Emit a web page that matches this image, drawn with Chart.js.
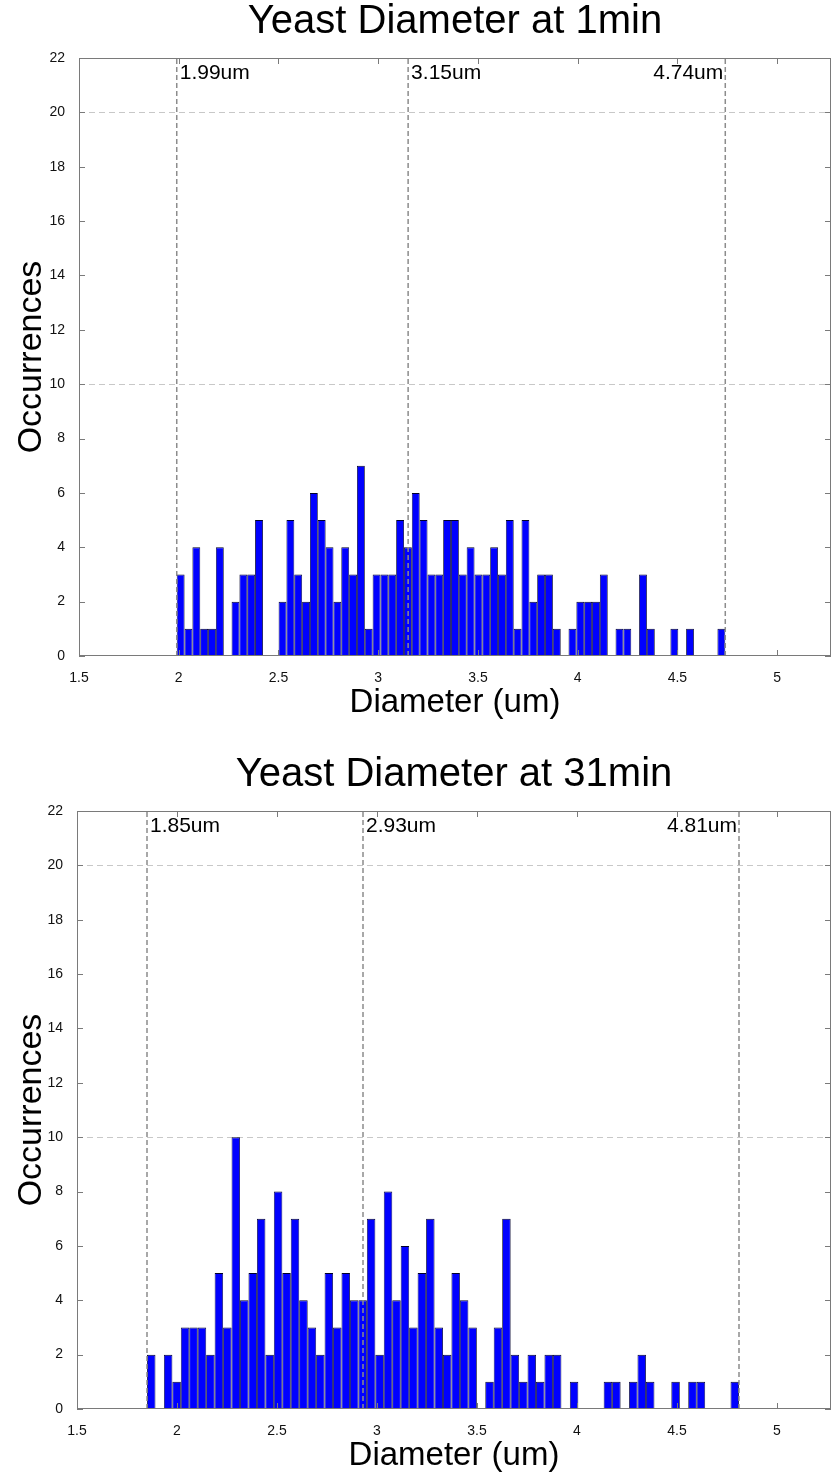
<!DOCTYPE html>
<html>
<head>
<meta charset="utf-8">
<script src="https://cdn.jsdelivr.net/npm/chart.js@4/dist/chart.umd.min.js"></script>
<style>
  html, body { margin: 0; padding: 0; background: #fff; overflow: hidden; width: 833px; height: 1472px; }
  .wrap { position: absolute; left: 0; width: 833px; height: 753px; }
</style>
</head>
<body>
<div class="wrap" style="top:0"><canvas id="c1" width="833" height="753"></canvas></div>
<div class="wrap" style="top:753px"><canvas id="c2" width="833" height="753"></canvas></div>
<script>
// ---------------- data ----------------
const xTickValues = [1.5, 2, 2.5, 3, 3.5, 4, 4.5, 5];
const yTickValues = [0, 2, 4, 6, 8, 10, 12, 14, 16, 18, 20, 22];
const yGridValues = [10, 20];

const title1 = 'Yeast Diameter at 1min';
const binRange1 = [1.99, 4.74];
const counts1 = [
  3, 1, 4, 1, 1, 4, 0, 2, 3, 3, 5, 0, 0, 2, 5, 3, 2, 6, 5, 4, 2, 4, 3, 7,
  1, 3, 3, 3, 5, 4, 6, 5, 3, 3, 5, 5, 3, 4, 3, 3, 4, 3, 5, 1, 5, 2, 3,
  3, 1, 0, 1, 2, 2, 2, 3, 0, 1, 1, 0, 3, 1, 0, 0, 1, 0, 1, 0, 0, 0, 1
];
const markers1 = [1.99, 3.15, 4.74];
const markerLabels1 = ['1.99um', '3.15um', '4.74um'];

const title2 = 'Yeast Diameter at 31min';
const binRange2 = [1.85, 4.81];
const counts2 = [
  2, 0, 2, 1, 3, 3, 3, 2, 5, 3, 10, 4, 5, 7, 2, 8, 5, 7, 4, 3, 2, 5, 3, 5, 4, 4, 7,
  2, 8, 4, 6, 3, 5, 7, 3, 2, 5, 4, 3, 0, 1, 3, 7, 2, 1, 2, 1, 2, 2, 0, 1,
  0, 0, 0, 1, 1, 0, 1, 2, 1, 0, 0, 1, 0, 1, 1, 0, 0, 0, 1
];
const markers2 = [1.85, 2.93, 4.81];
const markerLabels2 = ['1.85um', '2.93um', '4.81um'];

const xLabel = 'Diameter (um)';
const yLabel = 'Occurrences';

// ---------------- rendering ----------------
const FONT = "'Liberation Sans', Arial, Helvetica, sans-serif";

function binPoints(range, counts) {
  const w = (range[1] - range[0]) / counts.length;
  return counts.map((c, i) => ({ x: range[0] + (i + 0.5) * w, y: c }));
}

const decor = {
  id: 'decor',
  beforeDatasetsDraw(chart, args, o) {
    const { ctx, chartArea: a, scales: { y } } = chart;
    ctx.save();
    ctx.strokeStyle = '#c8c8c8';
    ctx.lineWidth = 1;
    ctx.setLineDash([6, 4]);
    o.grid.forEach(v => {
      const py = Math.round(y.getPixelForValue(v)) + 0.5;
      ctx.beginPath(); ctx.moveTo(a.left, py); ctx.lineTo(a.right, py); ctx.stroke();
    });
    ctx.restore();
  },
  afterDatasetsDraw(chart, args, o) {
    const { ctx, chartArea: a, scales: { x, y } } = chart;
    ctx.save();
    // marker lines
    ctx.strokeStyle = '#8c8c8c';
    ctx.lineWidth = 1.5;
    ctx.setLineDash([5, 3]);
    o.markers.forEach(v => {
      const px = x.getPixelForValue(v);
      ctx.beginPath(); ctx.moveTo(px, a.bottom); ctx.lineTo(px, a.top); ctx.stroke();
    });
    ctx.setLineDash([]);
    // marker labels
    ctx.fillStyle = '#000';
    ctx.font = '21px ' + FONT;
    ctx.textBaseline = 'middle';
    o.markers.forEach((v, i) => {
      const px = x.getPixelForValue(v);
      const al = o.align[i];
      ctx.textAlign = al;
      ctx.fillText(o.labels[i], al === 'left' ? px + 3 : px - 2, a.top + 15);
    });
    // frame
    ctx.strokeStyle = '#7a7a7a';
    ctx.lineWidth = 1;
    ctx.strokeRect(a.left + 0.5, a.top + 0.5, a.right - a.left - 1, a.bottom - a.top - 1);
    // inward ticks
    const tl = 6;
    o.xticks.forEach(v => {
      const px = Math.round(x.getPixelForValue(v)) + 0.5;
      ctx.beginPath();
      ctx.moveTo(px, a.bottom); ctx.lineTo(px, a.bottom - tl);
      ctx.moveTo(px, a.top); ctx.lineTo(px, a.top + tl);
      ctx.stroke();
    });
    o.yticks.forEach(v => {
      const py = Math.round(y.getPixelForValue(v)) + 0.5;
      ctx.beginPath();
      ctx.moveTo(a.left, py); ctx.lineTo(a.left + tl, py);
      ctx.moveTo(a.right, py); ctx.lineTo(a.right - tl, py);
      ctx.stroke();
    });
    ctx.restore();
  }
};

function makeChart(id, title, range, counts, markers, labels, leftWidth) {
  return new Chart(document.getElementById(id), {
    type: 'bar',
    data: {
      datasets: [{
        data: binPoints(range, counts),
        backgroundColor: '#0000ff',
        borderColor: '#00002a',
        borderWidth: { top: 1, left: 0.8, right: 0.8, bottom: 0 },
        borderSkipped: false,
        barPercentage: 1,
        categoryPercentage: 1,
        inflateAmount: 0
      }]
    },
    options: {
      responsive: false,
      animation: false,
      devicePixelRatio: 1,
      events: [],
      layout: { padding: { left: 0, right: 2, top: 0, bottom: 0 } },
      plugins: {
        legend: { display: false },
        tooltip: { enabled: false },
        title: {
          display: true,
          text: title,
          fullSize: false,
          color: '#000',
          font: { family: FONT, size: 40, weight: 'normal', lineHeight: 1 },
          padding: { top: 2, bottom: 16 }
        },
        decor: {
          grid: yGridValues,
          markers: markers,
          labels: labels,
          align: ['left', 'left', 'right'],
          xticks: xTickValues,
          yticks: yTickValues
        }
      },
      scales: {
        x: {
          type: 'linear',
          min: 1.5,
          max: 5.27,
          offset: false,
          grid: { display: false },
          border: { display: false },
          afterBuildTicks: s => { s.ticks = xTickValues.map(v => ({ value: v })); },
          afterFit: s => { s.height = 97; },
          ticks: {
            color: '#111',
            font: { family: FONT, size: 14 },
            padding: 6,
            maxRotation: 0,
            autoSkip: false,
            callback: v => String(v)
          },
          title: {
            display: true,
            text: xLabel,
            color: '#000',
            font: { family: FONT, size: 33 },
            padding: { top: 0, bottom: 30 }
          }
        },
        y: {
          min: 0,
          max: 22,
          grid: { display: false },
          border: { display: false },
          afterBuildTicks: s => { s.ticks = yTickValues.map(v => ({ value: v })); },
          afterFit: s => { s.width = leftWidth; },
          ticks: {
            color: '#111',
            font: { family: FONT, size: 14 },
            padding: 6,
            autoSkip: false,
            callback: v => String(v)
          },
          title: {
            display: true,
            text: yLabel,
            color: '#000',
            font: { family: FONT, size: 34 },
            padding: { top: 11, bottom: 0 }
          }
        }
      }
    },
    plugins: [decor]
  });
}

makeChart('c1', title1, binRange1, counts1, markers1, markerLabels1, 79);
makeChart('c2', title2, binRange2, counts2, markers2, markerLabels2, 77);
</script>
</body>
</html>
